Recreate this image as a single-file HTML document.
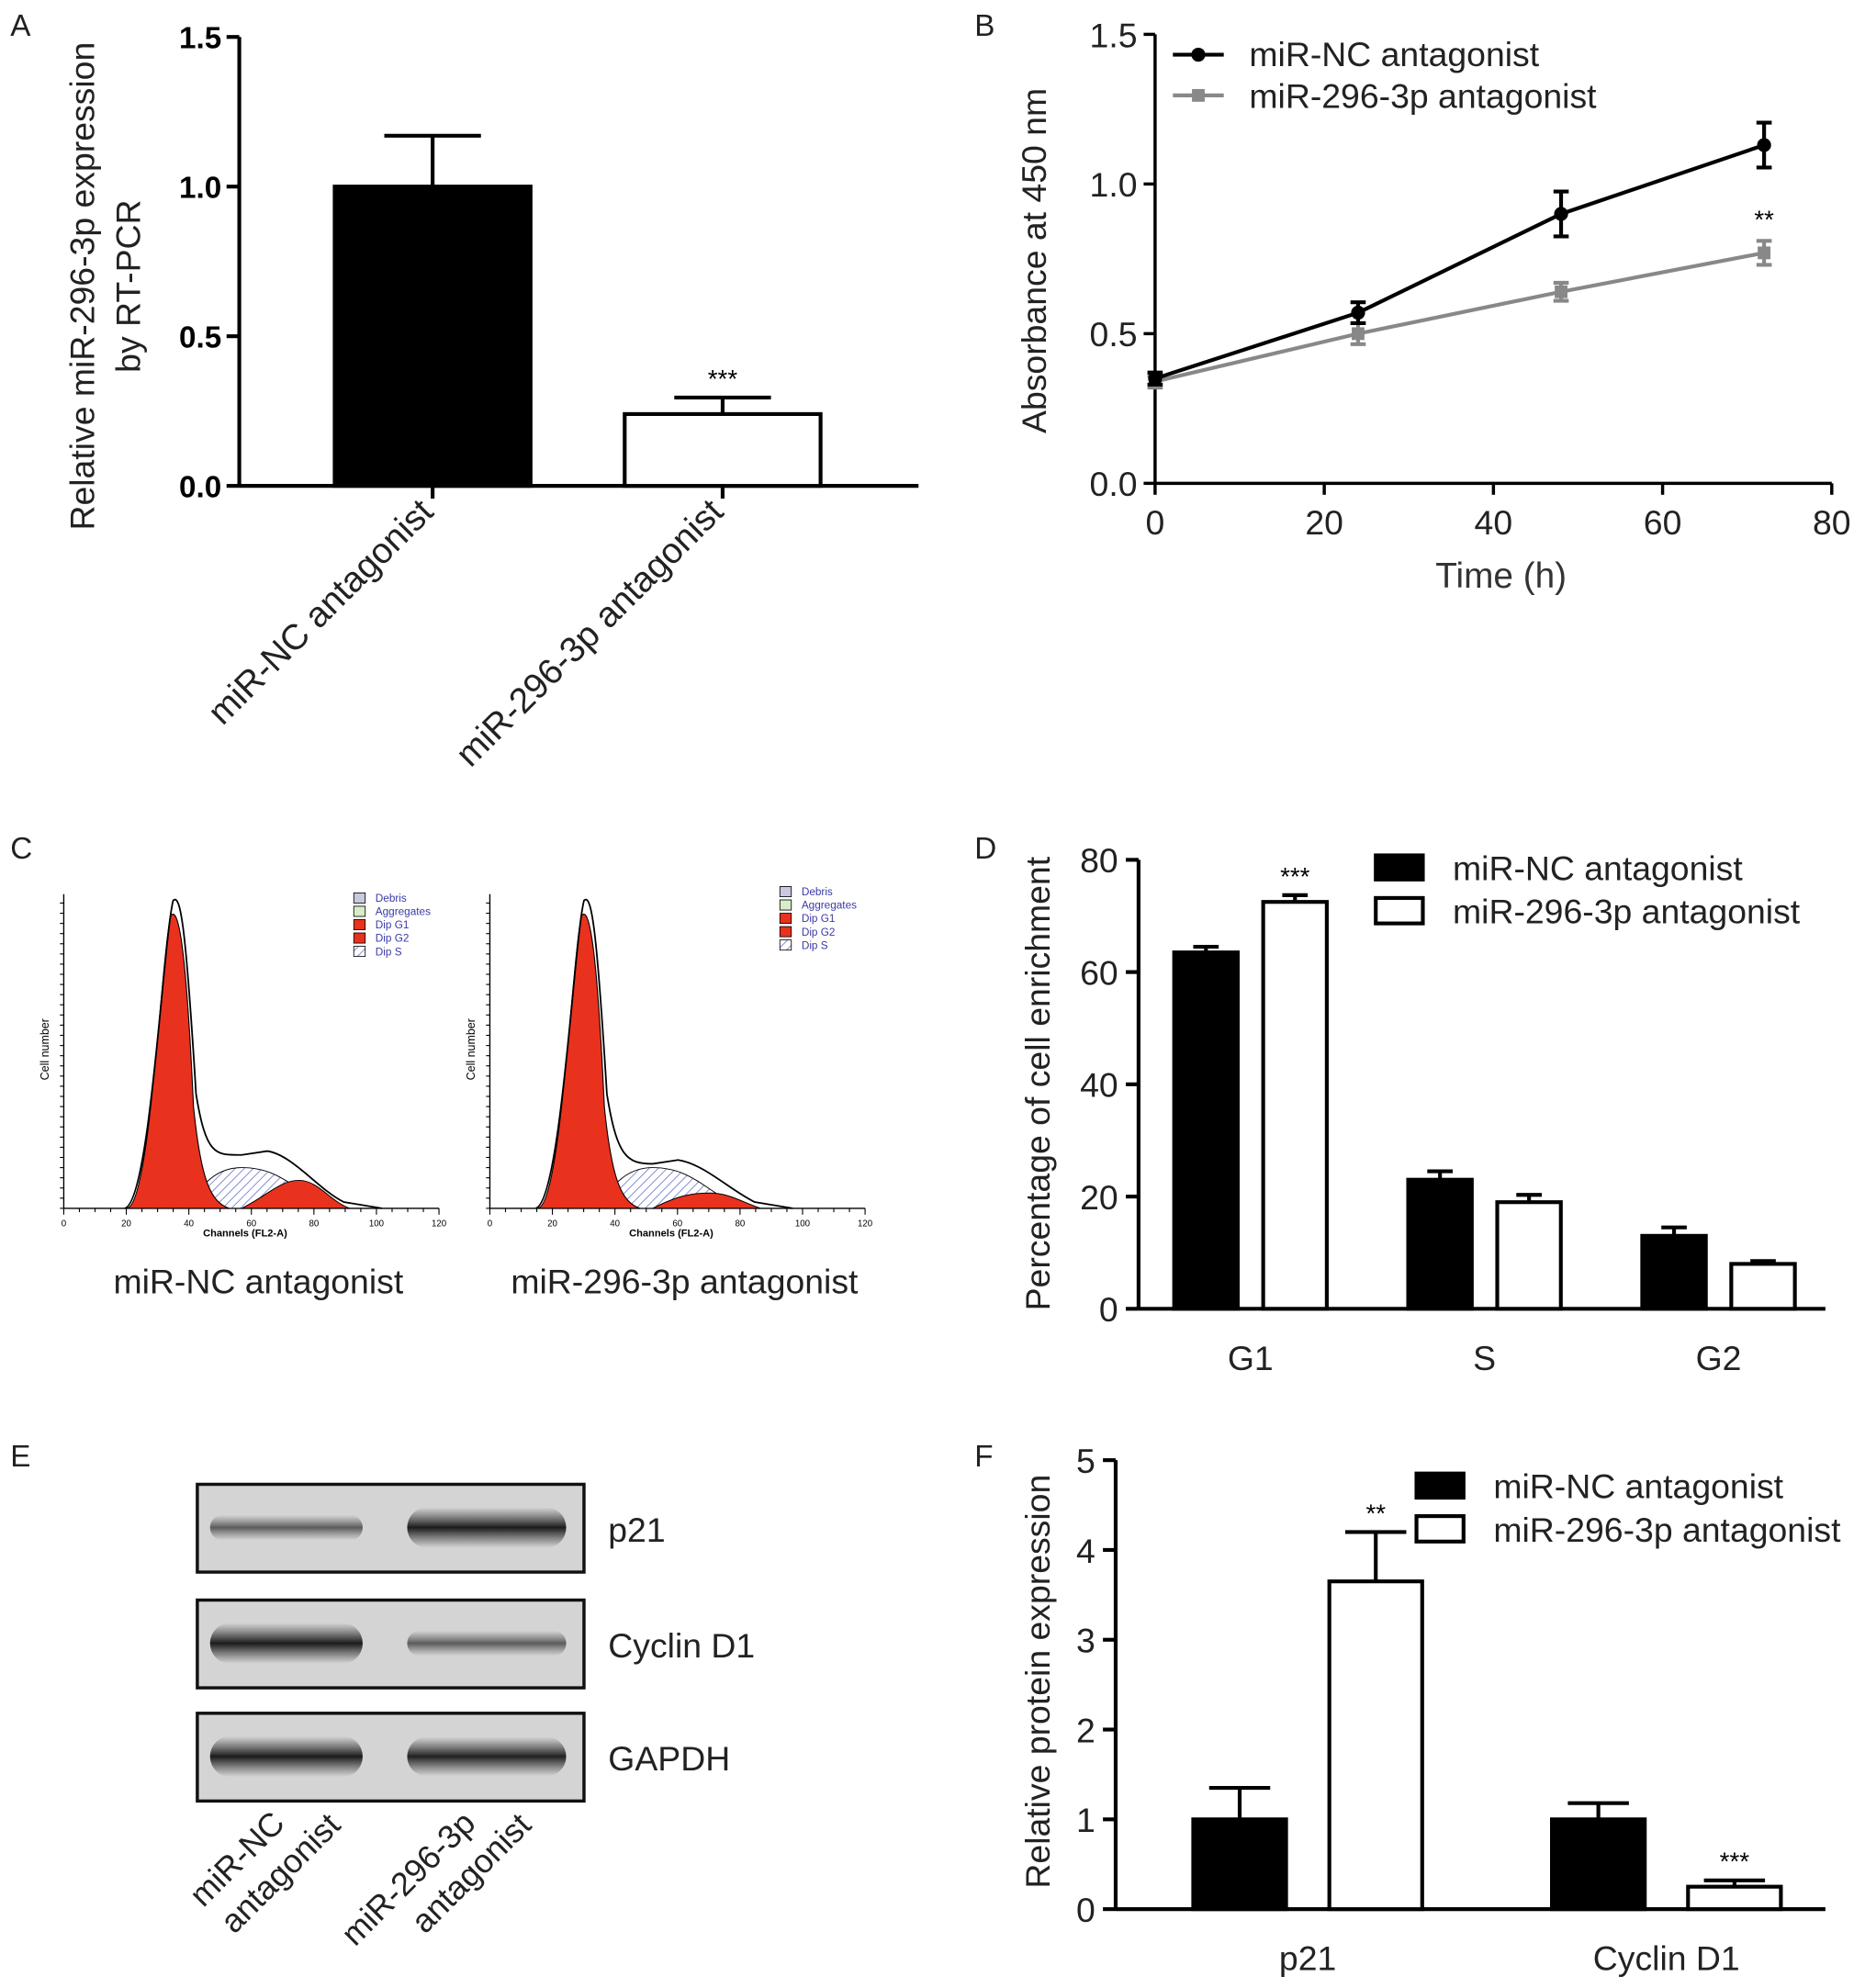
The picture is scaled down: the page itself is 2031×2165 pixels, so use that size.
<!DOCTYPE html>
<html><head><meta charset="utf-8"><style>
html,body{margin:0;padding:0;background:#fff;}
svg{display:block;}
text{font-family:"Liberation Sans",sans-serif;}
</style></head><body>
<svg id="fig" width="2031" height="2165" viewBox="0 0 1466 1563" xmlns="http://www.w3.org/2000/svg">
<defs>
<pattern id="hatch" width="5" height="5" patternUnits="userSpaceOnUse" patternTransform="rotate(45)"><rect width="5" height="5" fill="#fff"/><line x1="0" y1="0" x2="0" y2="5" stroke="#6a78c8" stroke-width="1.2"/></pattern>
<linearGradient id="band" x1="0" y1="0" x2="0" y2="1"><stop offset="0" stop-color="#333" stop-opacity="0"/><stop offset="0.5" stop-color="#111"/><stop offset="1" stop-color="#333" stop-opacity="0"/></linearGradient>
</defs>
<g id="root"></g>
</svg>
<script>
// Panel A data
const aCats=["miR-NC antagonist","miR-296-3p antagonist"];
const aVals=[1.0,0.24];
const aErr=[0.17,0.055];
const aTicks=[0,0.5,1.0,1.5];
// Panel B data
const bTimes=[0,24,48,72];
const bNC=[0.35,0.57,0.90,1.13];
const bNCerr=[0.02,0.035,0.075,0.075];
const bAnt=[0.34,0.50,0.64,0.77];
const bAnterr=[0.02,0.035,0.03,0.04];
const bXTicks=[0,20,40,60,80];
const bYTicks=[0,0.5,1.0,1.5];
// Panel D data
const dCats=["G1","S","G2"];
const dNC=[63.5,23,13];
const dNCerr=[1,1.5,1.5];
const dAnt=[72.5,19,8];
const dAnterr=[1.2,1.3,0.5];
const dTicks=[0,20,40,60,80];
// Panel F data
const fCats=["p21","Cyclin D1"];
const fNC=[1.0,1.0];
const fNCerr=[0.35,0.18];
const fAnt=[3.65,0.25];
const fAnterr=[0.55,0.07];
const fTicks=[0,1,2,3,4,5];

const NS="http://www.w3.org/2000/svg";
const root=document.getElementById('root');
function el(tag,attrs,parent,txt){const e=document.createElementNS(NS,tag);for(const k in attrs)e.setAttribute(k,attrs[k]);if(txt!==undefined)e.textContent=txt;(parent||root).appendChild(e);return e;}
function line(x1,y1,x2,y2,w,c,p){return el('line',{x1,y1,x2,y2,stroke:c||'#000','stroke-width':w||2},p);}

[["A",8,28],["B",766,28],["C",8,675],["D",766,675],["E",8,1153],["F",766,1153]].forEach(([t,x,y])=>{
 const e=el('text',{x,y,'font-size':24,fill:'#222'},null,t);
 
 
});

// ===== Panel A =====
(function(){
 const g=el('g',{});
 const x0=188,xr=722,y0=382,ppu=235.3;const Y=v=>y0-v*ppu;
 line(x0,Y(1.5),x0,y0,3,'#000',g);line(x0,y0,xr,y0,3,'#000',g);
 aTicks.forEach(t=>{line(x0-10,Y(t),x0,Y(t),3,'#000',g);const tx=el('text',{x:x0-14,y:Y(t)+9,'font-size':24,'font-weight':'bold','text-anchor':'end'},g,t.toFixed(1));});
 const centers=[340,568],bw=154;
 aVals.forEach((v,i)=>{
  const cx=centers[i];
  line(cx,Y(v),cx,Y(v+aErr[i]),3,'#000',g);line(cx-38,Y(v+aErr[i]),cx+38,Y(v+aErr[i]),3,'#000',g);
  const r=el('rect',{x:cx-bw/2,y:Y(v),width:bw,height:y0-Y(v),fill:i==0?'#000':'#fff',stroke:'#000','stroke-width':3},g);
  
  line(cx,y0,cx,y0+10,3,'#000',g);
  const lt=el('text',{x:cx+2,y:y0+22,'font-size':28,'text-anchor':'end',transform:`rotate(-45 ${cx+2} ${y0+22})`,fill:'#222'},g,aCats[i]);
  
 });
 el('text',{x:568,y:Y(aVals[1]+aErr[1])-8,'font-size':20,'text-anchor':'middle'},g,'***');
 const yt=el('text',{transform:'translate(74,225) rotate(-90)','font-size':27,'text-anchor':'middle',fill:'#222'},g);
 el('tspan',{x:0,y:0},yt,'Relative miR-296-3p  expression');el('tspan',{x:0,y:36},yt,'by RT-PCR');
 
})();

// ===== Panel B =====
(function(){
 const g=el('g',{});
 const x0=908,xr=1440,y0=380,yt=27;const X=t=>x0+t*(xr-x0)/80;const Y=v=>y0-v*(y0-yt)/1.5;
 line(x0,yt,x0,y0,2.5,'#000',g);line(x0,y0,xr,y0,2.5,'#000',g);
 bYTicks.forEach(t=>{line(x0-9,Y(t),x0,Y(t),2.5,'#000',g);const tx=el('text',{x:x0-14,y:Y(t)+10,'font-size':27,'text-anchor':'end',fill:'#222'},g,t.toFixed(1));});
 bXTicks.forEach(t=>{line(X(t),y0,X(t),y0+9,2.5,'#000',g);const tx=el('text',{x:X(t),y:y0+40,'font-size':27,'text-anchor':'middle',fill:'#222'},g,String(t));});
 el('text',{x:1180,y:462,'font-size':28,'text-anchor':'middle',fill:'#333'},g,'Time (h)');
 el('text',{transform:'translate(822,205) rotate(-90)','font-size':27,'text-anchor':'middle',fill:'#222'},g,'Absorbance at 450 nm');
 function series(vals,errs,col,sq,name){
  const sg=el('g',{},g);
  el('polyline',{points:vals.map((v,i)=>X(bTimes[i])+','+Y(v)).join(' '),fill:'none',stroke:col,'stroke-width':3},sg);
  vals.forEach((v,i)=>{const x=X(bTimes[i]);line(x,Y(v-errs[i]),x,Y(v+errs[i]),3,col,sg);line(x-6,Y(v-errs[i]),x+6,Y(v-errs[i]),3,col,sg);line(x-6,Y(v+errs[i]),x+6,Y(v+errs[i]),3,col,sg);
   if(sq)el('rect',{x:x-5,y:Y(v)-5,width:10,height:10,fill:col},sg);else el('circle',{cx:x,cy:Y(v),r:5.5,fill:col},sg);});
 }
 series(bAnt,bAnterr,'#888',true,'series-mir-296');
 series(bNC,bNCerr,'#000',false,'series-mir-nc');
 el('text',{x:X(72),y:Y(bAnt[3]+bAnterr[3])-10,'font-size':20,'text-anchor':'middle'},g,'**');
 const lg=el('g',{},g);
 line(922,43,962,43,3,'#000',lg);el('circle',{cx:942,cy:43,r:5.5},lg);el('text',{x:982,y:52,'font-size':27,fill:'#222'},lg,'miR-NC antagonist');
 line(922,75,962,75,3,'#888',lg);el('rect',{x:937,y:70,width:10,height:10,fill:'#888'},lg);el('text',{x:982,y:85,'font-size':27,fill:'#222'},lg,'miR-296-3p antagonist');
})();

// ===== Panel C =====
function histo(ox,name,caption,s){
 const g=el('g',{});
 const x0=ox,y0=950,w=295;
 line(x0,703,x0,y0,1,'#000',g);line(x0,y0,x0+w,y0,1,'#000',g);
 for(let i=0;i<=24;i++){line(x0+i*w/24,y0,x0+i*w/24,y0+(i%4==0?5:3),0.8,'#000',g);}
 for(let i=0;i<=30;i++){line(x0-3,y0-i*8,x0,y0-i*8,0.8,'#000',g);}
 [0,20,40,60,80,100,120].forEach((t,i)=>el('text',{x:x0+i*w/6,y:y0+14,'font-size':7,'text-anchor':'middle'},g,String(t)));
 el('text',{x:x0+w/2-38,y:y0+22,'font-size':8,'font-weight':'bold'},g,'Channels (FL2-A)');
 el('text',{transform:`translate(${x0-12},825) rotate(-90)`,'font-size':9,'text-anchor':'middle'},g,'Cell number');
 const p=x0+s.pk;
 el('path',{d:`M${p+5},${y0} C${p+20},930 ${p+30},918 ${p+50},918 C${p+80},918 ${p+90},935 ${p+120},${y0} Z`,fill:'url(#hatch)',stroke:'#000','stroke-width':0.7},g);
 el('path',{d:`M${p+50},${y0} C${p+70},940 ${p+80},${s.g2} ${p+95},${s.g2} C${p+110},${s.g2} ${p+120},945 ${p+135},${y0} Z`,fill:'#e8321e',stroke:'#000','stroke-width':0.7},g);
 el('path',{d:`M${p-40},${y0} C${p-22},945 ${p-14},${s.h+40} ${p-6},${s.h} C${p},${s.h-8} ${p+6},${s.h+20} ${p+12},870 C${p+18},930 ${p+26},945 ${p+40},${y0} Z`,fill:'#e8321e',stroke:'#000','stroke-width':0.8},g);
 el('path',{d:`M${p-42},${y0} C${p-22},945 ${p-12},${s.h+20} ${p-4},${s.h-12} C${p+2},${s.h-18} ${p+6},${s.h+10} ${p+14},860 C${p+22},910 ${p+30},${s.env} ${p+50},${s.env} L${p+70},${s.env-3} C${p+90},${s.env} ${p+110},935 ${p+130},945 L${p+160},${y0}`,fill:'none',stroke:'#000','stroke-width':1.3},g);
 const lx=x0+228,ly=s.ly;const items=[['Debris','#c8c8e0'],['Aggregates','#d8ecc8'],['Dip G1','#e8321e'],['Dip G2','#e8321e'],['Dip S','url(#hatch)']];
 items.forEach((it,i)=>{el('rect',{x:lx,y:ly+i*10.5,width:9,height:8,fill:it[1],stroke:'#000','stroke-width':0.6},g);el('text',{x:lx+17,y:ly+7+i*10.5,'font-size':8.5,fill:'#3a3aa8'},g,it[0]);});
 el('text',{x:x0+153,y:1017,'font-size':27,'text-anchor':'middle',fill:'#222'},g,caption);
}
histo(50,'histogram-mir-nc','miR-NC antagonist',{pk:90,h:720,g2:928,env:908,ly:702});
histo(385,'histogram-mir-296','miR-296-3p antagonist',{pk:78,h:720,g2:938,env:915,ly:697});

// ===== Grouped bar helper (D, F) =====
function grouped(cfg){
 const g=el('g',{});
 const {x0,xr,y0,ytop,max}=cfg;const Y=v=>y0-v*(y0-ytop)/max;
 line(x0,ytop,x0,y0,3,'#000',g);line(x0,y0,xr,y0,3,'#000',g);
 cfg.ticks.forEach(t=>{line(x0-10,Y(t),x0,Y(t),3,'#000',g);const tx=el('text',{x:x0-16,y:Y(t)+10,'font-size':27,'text-anchor':'end',fill:'#222'},g,String(t));});
 cfg.cats.forEach((c,i)=>{
  const cx=cfg.centers[i];
  [[cfg.nc,cfg.ncErr,'#000',-1],[cfg.ant,cfg.antErr,'#fff',1]].forEach(([vals,errs,fill,side],k)=>{
   const v=vals[i],e=errs[i];const bx=cx+side*cfg.gap/2+(side<0?-cfg.bw:0);const mx=bx+cfg.bw/2;
   line(mx,Y(v),mx,Y(v+e),3,'#000',g);line(mx-cfg.cap,Y(v+e),mx+cfg.cap,Y(v+e),3,'#000',g);
   const r=el('rect',{x:bx,y:Y(v),width:cfg.bw,height:y0-Y(v),fill,stroke:'#000','stroke-width':3},g);
   
   if(cfg.stars[i]&&cfg.stars[i][k])el('text',{x:mx,y:Y(v+e)-8,'font-size':20,'text-anchor':'middle'},g,cfg.stars[i][k]);
  });
  const lt=el('text',{x:cx,y:y0+48,'font-size':27,'text-anchor':'middle',fill:'#222'},g,c);
 });
 el('text',{transform:`translate(${cfg.ytx},${cfg.yty}) rotate(-90)`,'font-size':27,'text-anchor':'middle',fill:'#222'},g,cfg.ytitle);
 const lg=el('g',{},g);
 el('rect',{x:cfg.lx,y:cfg.ly,width:40,height:22,fill:'#000'},lg);el('text',{x:cfg.lx+62,y:cfg.ly+21,'font-size':27,fill:'#222'},lg,'miR-NC antagonist');
 el('rect',{x:cfg.lx+1.5,y:cfg.ly+35,width:37,height:20,fill:'#fff',stroke:'#000','stroke-width':3},lg);el('text',{x:cfg.lx+62,y:cfg.ly+55,'font-size':27,fill:'#222'},lg,'miR-296-3p antagonist');
}
grouped({name:'panel-d-bar-chart',x0:895,xr:1435,y0:1029,ytop:676,max:80,ticks:dTicks,cats:dCats,centers:[983,1167,1351],gap:20,bw:50,cap:10,
 nc:dNC,ncErr:dNCerr,ant:dAnt,antErr:dAnterr,stars:[[null,'***'],null,null],ytitle:'Percentage of cell enrichment',ytx:825,yty:852,lx:1080,ly:671});
grouped({name:'panel-f-bar-chart',x0:877,xr:1435,y0:1501,ytop:1148,max:5,ticks:fTicks,cats:fCats,centers:[1028,1310],gap:34,bw:73,cap:24,
 nc:fNC,ncErr:fNCerr,ant:fAnt,antErr:fAnterr,stars:[[null,'**'],[null,'***']],ytitle:'Relative protein expression',ytx:825,yty:1322,lx:1112,ly:1157});

// ===== Panel E (western blot) =====
(function(){
 const g=el('g',{});
 const rows=[['p21',1167,[0.45,1.0]],['Cyclin D1',1258,[1.0,0.45]],['GAPDH',1347,[1.0,0.95]]];
 rows.forEach(([lab,y,ints])=>{
  const bg=el('g',{},g);
  el('rect',{x:155,y,width:304,height:69,fill:'#d4d4d4',stroke:'#111','stroke-width':2.5},bg);
  [[165,285],[320,445]].forEach(([a,b],i)=>{const h=10+22*ints[i];el('rect',{x:a,y:y+34-h/2,width:b-a,height:h,rx:h/2,fill:'url(#band)',opacity:0.35+0.6*ints[i]},bg);});
  el('text',{x:478,y:y+45,'font-size':27,fill:'#222'},g,lab);
 });
 [['miR-NC','antagonist',225],['miR-296-3p','antagonist',375]].forEach(([a,b,x])=>{
  const t=el('text',{transform:`translate(${x},1435) rotate(-45)`,'font-size':26,'text-anchor':'end',fill:'#222'},g);
  el('tspan',{x:0,y:0},t,a);el('tspan',{x:30,y:32},t,b);
  
 });
})();
</script>
</body></html>
